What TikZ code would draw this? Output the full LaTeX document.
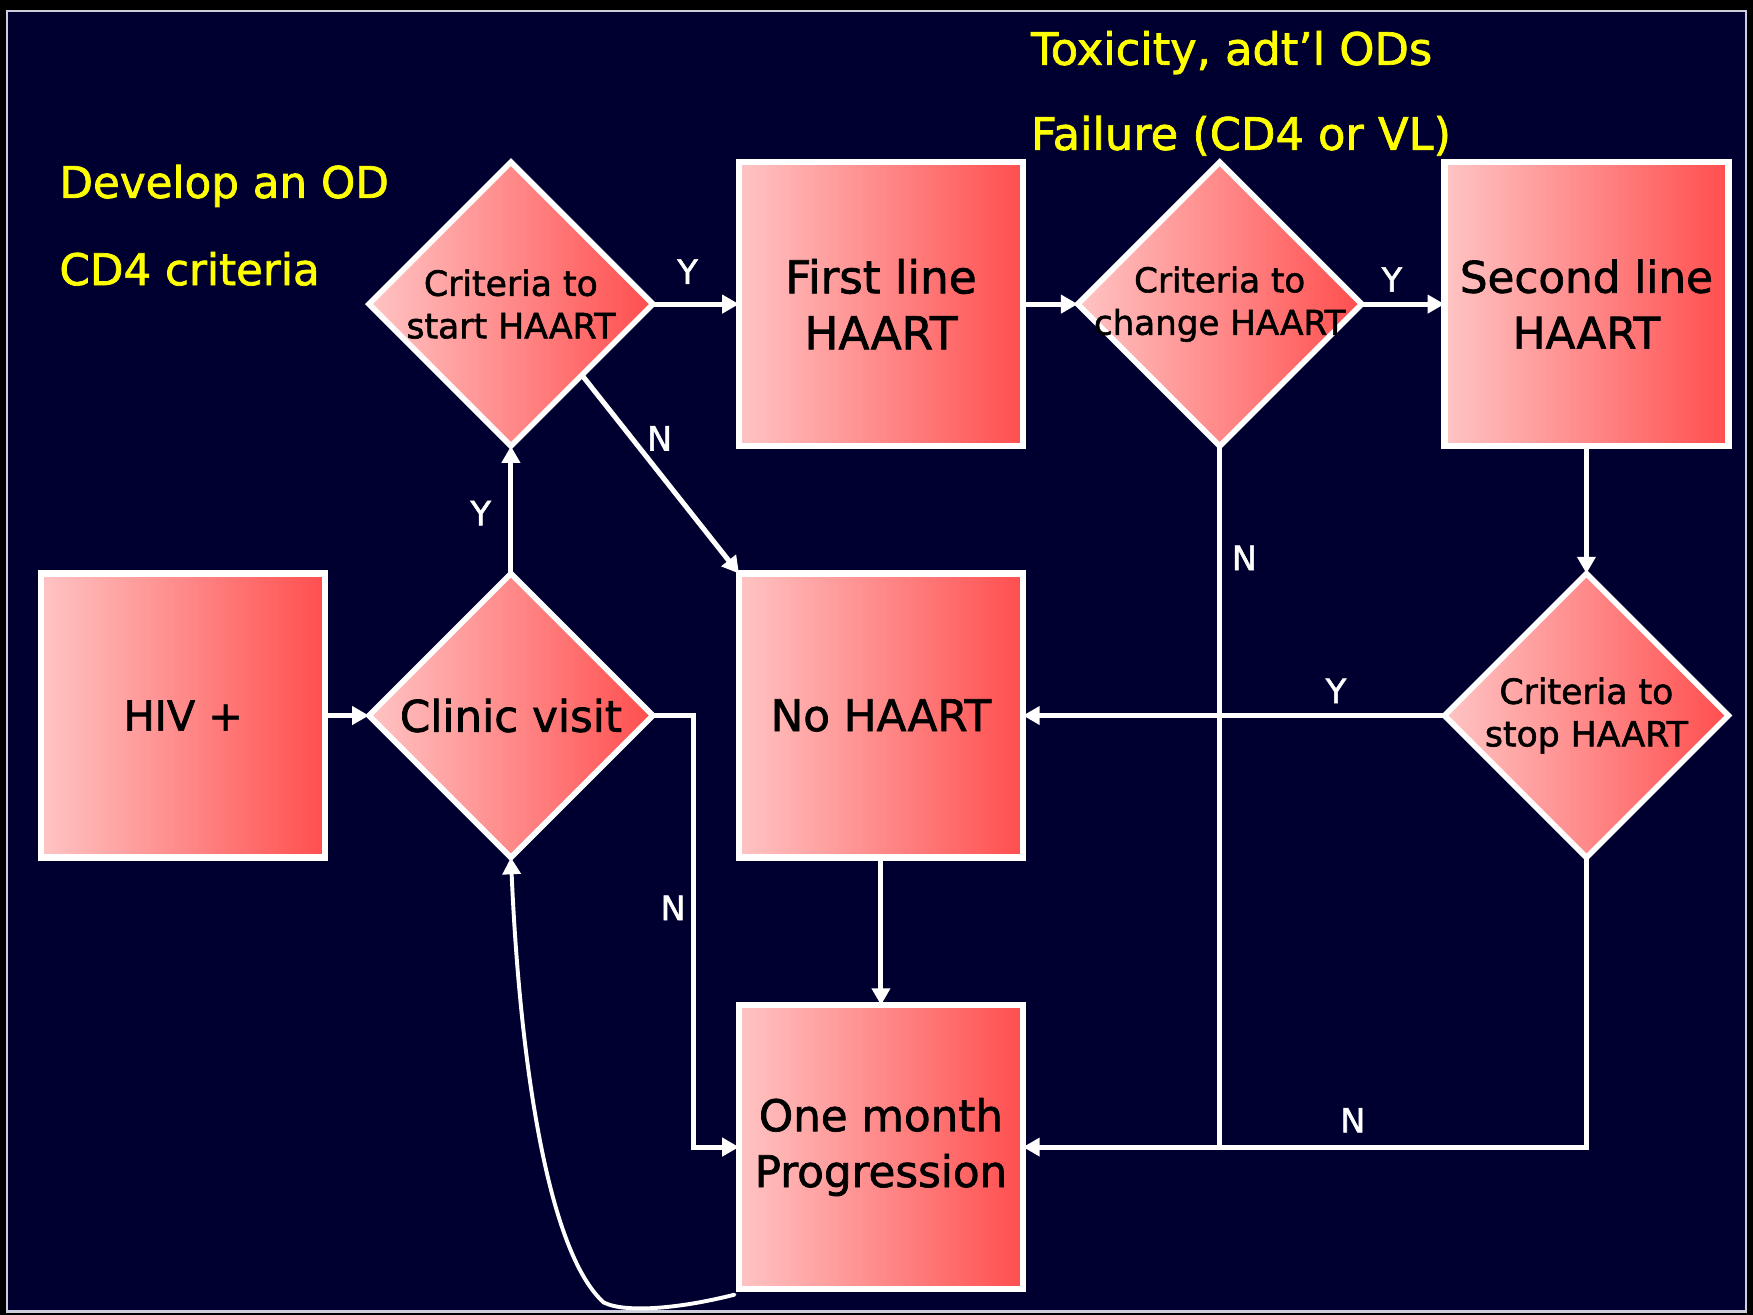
\documentclass[tikz,border=0pt]{standalone}
\usepackage{fontspec}
\setmainfont{DejaVu Sans}[FakeBold=1.6]
\usetikzlibrary{shapes.geometric,arrows.meta,calc}
\definecolor{navy}{RGB}{0,0,48}
\definecolor{pinkL}{RGB}{255,196,196}
\definecolor{redR}{RGB}{255,78,78}
\definecolor{ylw}{RGB}{255,255,0}
\definecolor{frame}{RGB}{205,205,220}
\begin{document}
\begin{tikzpicture}[x=1pt,y=-1pt,
  box/.style={draw=white,line width=5.5pt,left color=pinkL,right color=redR,
    minimum width=254pt,minimum height=254pt,inner sep=0pt,outer sep=0pt,
    align=center,text=black,font=\fontsize{39}{50}\selectfont},
  dia/.style={diamond,draw=white,line width=5pt,left color=pinkL,right color=redR,
    minimum width=254pt,minimum height=254pt,inner sep=0pt,outer sep=0pt,
    align=center,text=black,font=\fontsize{31}{38}\selectfont},
  arr/.style={draw=white,line width=4.5pt,-{Triangle[length=15pt,width=16pt]}},
  ln/.style={draw=white,line width=4.5pt},
  yn/.style={text=white,font=\fontsize{30}{36}\selectfont,inner sep=0pt},
  note/.style={text=ylw,anchor=base west,inner sep=0pt}]
\useasboundingbox (0,0) rectangle (1568,1176);
\fill[black] (0,0) rectangle (1568,1176);
\filldraw[fill=navy,draw=frame,line width=2pt] (6,10) rectangle (1562,1173);

% notes
\node[note,font=\fontsize{40}{48}\selectfont] (n1) at (922,58) {Toxicity, adt’l ODs};
\node[note,font=\fontsize{40}{48}\selectfont] (n2) at (922,134) {Failure (CD4 or VL)};
\node[note,font=\fontsize{39}{48}\selectfont] (n3) at (53,177) {Develop an OD};
\node[note,font=\fontsize{39}{48}\selectfont] (n4) at (53,255) {CD4 criteria};

% nodes
\node[box,font=\fontsize{37}{46}\selectfont] (hiv) at (164,640) {HIV +};
\node[dia,font=\fontsize{39}{48}\selectfont] (clinic) at (457,640) {\makebox[0pt]{Clinic visit}};
\node[dia] (start) at (457,272) {\makebox[0pt]{Criteria to}\\\makebox[0pt]{start HAART}};
\node[box,font=\fontsize{40.5}{50}\selectfont] (first) at (788,272) {First line\\HAART};
\node[dia,font=\fontsize{30.5}{38}\selectfont] (change) at (1091,272) {\makebox[0pt]{Criteria to}\\\makebox[0pt]{change HAART}};
\node[box] (second) at (1419,272) {Second line\\HAART};
\node[box] (noh) at (788,640) {No HAART};
\node[dia] (stop) at (1419,640) {\makebox[0pt]{Criteria to}\\\makebox[0pt]{stop HAART}};
\node[box] (prog) at (788,1026) {One month\\Progression};

% connectors
\draw[arr] (hiv.east) -- (clinic.west);
\draw[arr] (clinic.north) -- (start.south);
\draw[arr] (start.east) -- (first.west);
\draw[arr] ($(start.east)!0.5!(start.south)$) -- (noh.north west);
\draw[arr] (first.east) -- (change.west);
\draw[arr] (change.east) -- (second.west);
\draw[arr] (second.south) -- (stop.north);
\draw[arr] (stop.west) -- (noh.east);
\draw[ln] (change.south) -- (change.south |- prog.east);
\draw[arr] (stop.south) |- (prog.east);
\draw[arr] (clinic.east) -- ++(36,0) |- (prog.west);
\draw[arr] (noh.south) -- (prog.north);
\coordinate (cstart) at ($(prog.south west)+(-4,5)$);
\draw[arr,line width=3.5pt,line cap=round] (cstart) .. controls (610,1170) and (560,1175) .. (540,1165)
   .. controls (490,1120) and (465,950) .. (clinic.south);

% labels
\node[yn] (y1) at (430,459) {Y};
\node[yn] (y2) at (615,243) {Y};
\node[yn] (nn1) at (590,392) {N};
\node[yn] (y3) at (1245,250) {Y};
\node[yn] (nn2) at (1113,499) {N};
\node[yn] (y4) at (1195,618) {Y};
\node[yn] (nn3) at (1210,1002) {N};
\node[yn] (nn4) at (602,812) {N};
\end{tikzpicture}
\end{document}
